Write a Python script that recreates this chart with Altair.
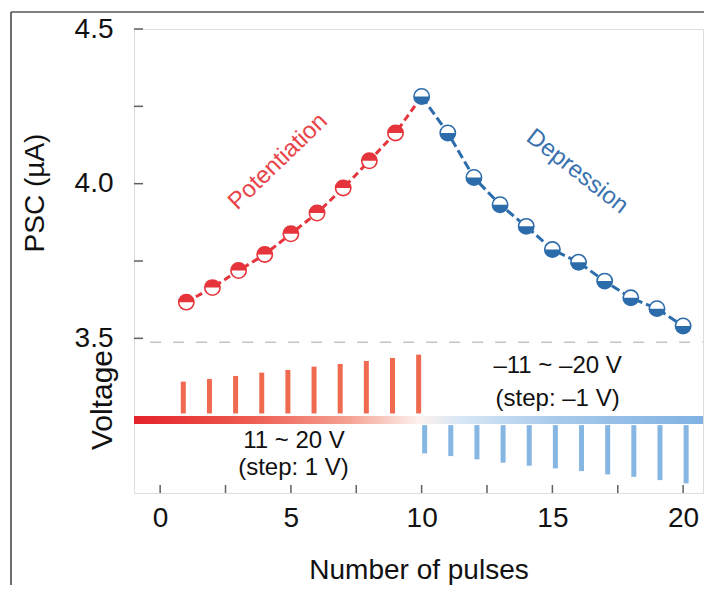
import altair as alt
import pandas as pd

# ---------------- data ----------------
pulse_pot = [1, 2, 3, 4, 5, 6, 7, 8, 9, 10]
psc_pot = [3.617, 3.664, 3.719, 3.771, 3.838, 3.905, 3.986, 4.074, 4.164, 4.282]

pulse_dep = [10, 11, 12, 13, 14, 15, 16, 17, 18, 19, 20]
psc_dep = [4.282, 4.164, 4.020, 3.932, 3.862, 3.787, 3.746, 3.685, 3.631, 3.596, 3.540]

# pulse amplitudes (display units of the voltage panel)
amp_pulse_pot = [1, 2, 3, 4, 5, 6, 7, 8, 9, 10]
amp_pot = [12.8, 13.7, 14.7, 15.8, 16.7, 17.8, 18.7, 19.7, 20.7, 21.8]
amp_pulse_dep = [10, 11, 12, 13, 14, 15, 16, 17, 18, 19, 20]
amp_dep = [-11.1, -12.0, -13.1, -14.2, -15.2, -16.1, -17.0, -18.1, -18.9, -20.0, -21.1]

x_ticks = [0, 2.5, 5, 7.5, 10, 12.5, 15, 17.5, 20]
x_labels = [0, 5, 10, 15, 20]
y_ticks = [3.5, 3.75, 4.0, 4.25, 4.5]
y_labels = [3.5, 4.0, 4.5]
psc_split = 3.487

# ---------------- styling ----------------
FONT = "Liberation Sans"
RED = "#e5343b"
BLUE = "#2c6cab"
RED_BAR = "#f06a4f"
BLUE_BAR = "#86b6e2"
FRAME = "#606060"
X_DOMAIN = [-1, 20.76]
Y_DOMAIN = [3.0, 4.5]
V_DOMAIN = [-24.3, 130.3]
W, H = 569, 464

TOP_HALF = "M -1 0 A 1 1 0 0 1 1 0 Z"
BOTTOM_HALF = "M -1 0 A 1 1 0 0 0 1 0 Z"

xs = alt.Scale(domain=X_DOMAIN, nice=False, zero=False)
ys = alt.Scale(domain=Y_DOMAIN, nice=False, zero=False)
vs = alt.Scale(domain=V_DOMAIN, nice=False, zero=False)

x_axis = alt.Axis(values=x_labels, ticks=False, tickSize=0, domain=False, grid=False,
                  labelFontSize=28, labelFont=FONT, labelColor="#111", labelPadding=11,
                  title="Number of pulses", titleFontSize=28, titleFont=FONT,
                  titleFontWeight="normal", titleColor="#111", titlePadding=24)
y_axis = alt.Axis(values=y_labels, format=".1f", ticks=False, tickSize=0, domain=False,
                  grid=False, orient="left", labelFontSize=28, labelFont=FONT,
                  labelColor="#111", labelPadding=21, title=None)

X = lambda f: alt.X(f, type="quantitative", scale=xs, axis=x_axis)

pot = pd.DataFrame({"pulse": pulse_pot, "psc": psc_pot})
dep = pd.DataFrame({"pulse": pulse_dep, "psc": psc_dep})
red_pts = pot[pot["pulse"] < 10]
blue_pts = dep

Yp = alt.Y("psc:Q", scale=ys, axis=y_axis)

line_red = alt.Chart(pot).mark_line(color=RED, strokeWidth=3, strokeDash=[7, 4]).encode(
    x=X("pulse"), y=Yp)
line_blue = alt.Chart(dep).mark_line(color=BLUE, strokeWidth=3, strokeDash=[9, 4]).encode(
    x=X("pulse"), y=Yp)

def markers(df, color, half):
    base = alt.Chart(df).encode(x=X("pulse"), y=Yp)
    ring = base.mark_point(shape="circle", size=235, filled=True, fill="white",
                           stroke=color, strokeWidth=1.6, opacity=1)
    fill = base.mark_point(shape=half, size=235, filled=True, fill=color,
                           strokeWidth=0, opacity=1)
    return ring + fill

split_df = pd.DataFrame({"pulse": [-0.38], "pulse2": [20.76], "psc": [psc_split]})
split_line = alt.Chart(split_df).mark_rule(color="#c4c4c4", strokeWidth=1.5,
                                           strokeDash=[11, 12]).encode(
    x=X("pulse"), x2="pulse2", y=Yp)

txt_df = pd.DataFrame({"pulse": [4.51, 15.95], "psc": [4.071, 4.039],
                       "label": ["Potentiation", "Depression"]})
t_pot = alt.Chart(txt_df.iloc[[0]]).mark_text(font=FONT, fontSize=24, color="#e8444a",
                                              angle=316, align="center", baseline="middle").encode(
    x=X("pulse"), y=Yp, text="label")
t_dep = alt.Chart(txt_df.iloc[[1]]).mark_text(font=FONT, fontSize=24, color="#3a72b0",
                                              angle=38, align="center", baseline="middle").encode(
    x=X("pulse"), y=Yp, text="label")

ytick_df = pd.DataFrame({"psc": y_ticks})
yticks = alt.Chart(ytick_df).mark_rule(color=FRAME, strokeWidth=1.5).encode(
    y=Yp, x=alt.value(0), x2=alt.value(9))

psc_group = alt.layer(split_line, line_red, line_blue,
                      markers(red_pts, RED, TOP_HALF), markers(blue_pts, BLUE, BOTTOM_HALF),
                      t_pot, t_dep, yticks)

# ---------------- voltage panel ----------------
Yv = lambda f: alt.Y(f, type="quantitative", scale=vs, axis=None)

base_df = pd.DataFrame({"pulse": [X_DOMAIN[0]], "pulse2": [X_DOMAIN[1]], "v": [-1.33], "v2": [1.33]})
grad = alt.Gradient(gradient="linear", x1=0, x2=1, y1=0, y2=0, stops=[
    alt.GradientStop(offset=0.0, color="#e4222a"),
    alt.GradientStop(offset=0.2, color="#ee5a4f"),
    alt.GradientStop(offset=0.38, color="#f5a394"),
    alt.GradientStop(offset=0.5, color="#fdf1ee"),
    alt.GradientStop(offset=0.58, color="#d6e6f5"),
    alt.GradientStop(offset=0.75, color="#a6c9eb"),
    alt.GradientStop(offset=1.0, color="#7fb2e2"),
])
baseline = alt.Chart(base_df).mark_rect(fill=grad).encode(
    x=X("pulse"), x2="pulse2", y=Yv("v"), y2="v2")

pp = pd.DataFrame({"pulse": amp_pulse_pot, "v": amp_pot, "v0": [2.2] * len(amp_pot)})
pd_ = pd.DataFrame({"pulse": amp_pulse_dep, "v": amp_dep, "v0": [-1.7] * len(amp_dep)})
bars_pot = alt.Chart(pp).mark_rule(color=RED_BAR, strokeWidth=5, xOffset=-3).encode(
    x=X("pulse"), y=Yv("v0"), y2="v")
bars_dep = alt.Chart(pd_).mark_rule(color=BLUE_BAR, strokeWidth=5, xOffset=3).encode(
    x=X("pulse"), y=Yv("v0"), y2="v")

vtxt = pd.DataFrame({
    "pulse": [5.12, 5.1, 15.2, 15.2],
    "v": [-7.1, -16.1, 18.0, 7.1],
    "label": ["11 ~ 20 V", "(step: 1 V)", "–11 ~ –20 V", "(step: –1 V)"],
})
vtexts = alt.Chart(vtxt).mark_text(font=FONT, fontSize=24, color="#111",
                                   align="center", baseline="middle").encode(
    x=X("pulse"), y=Yv("v"), text="label")

one = pd.DataFrame({"k": [0]})
xticks = alt.Chart(pd.DataFrame({"pulse": x_ticks})).mark_rule(color=FRAME, strokeWidth=1.5).encode(
    x=X("pulse"), y=alt.value(H), y2=alt.value(H - 8))
voltage_lbl = alt.Chart(one).mark_text(text="Voltage", font=FONT, fontSize=30, color="#111",
                                       angle=270, align="center", baseline="middle").encode(
    x=alt.value(-31), y=alt.value(371))
psc_lbl = alt.Chart(one).mark_text(text="PSC (µA)", font=FONT, fontSize=28, color="#111",
                                   angle=270, align="center", baseline="middle").encode(
    x=alt.value(-98), y=alt.value(164))
border_top = alt.Chart(one).mark_rule(color="#555", strokeWidth=1.7).encode(
    x=alt.value(-123), x2=alt.value(600), y=alt.value(-17))
border_left = alt.Chart(one).mark_rule(color="#555", strokeWidth=1.7).encode(
    x=alt.value(-123), y=alt.value(-17), y2=alt.value(700))

volt_group = alt.layer(baseline, bars_pot, bars_dep, vtexts, xticks,
                       voltage_lbl, psc_lbl, border_top, border_left)

chart = alt.layer(volt_group, psc_group).resolve_scale(y="independent").properties(
    width=W, height=H,
    padding={"left": 126, "top": 21, "right": 1, "bottom": 92},
    autosize=alt.AutoSizeParams(type="none"),
).configure_view(stroke=FRAME, strokeWidth=1.5).configure(background="white")

chart.save("out.html", embed_options={"renderer": "svg", "actions": False})
